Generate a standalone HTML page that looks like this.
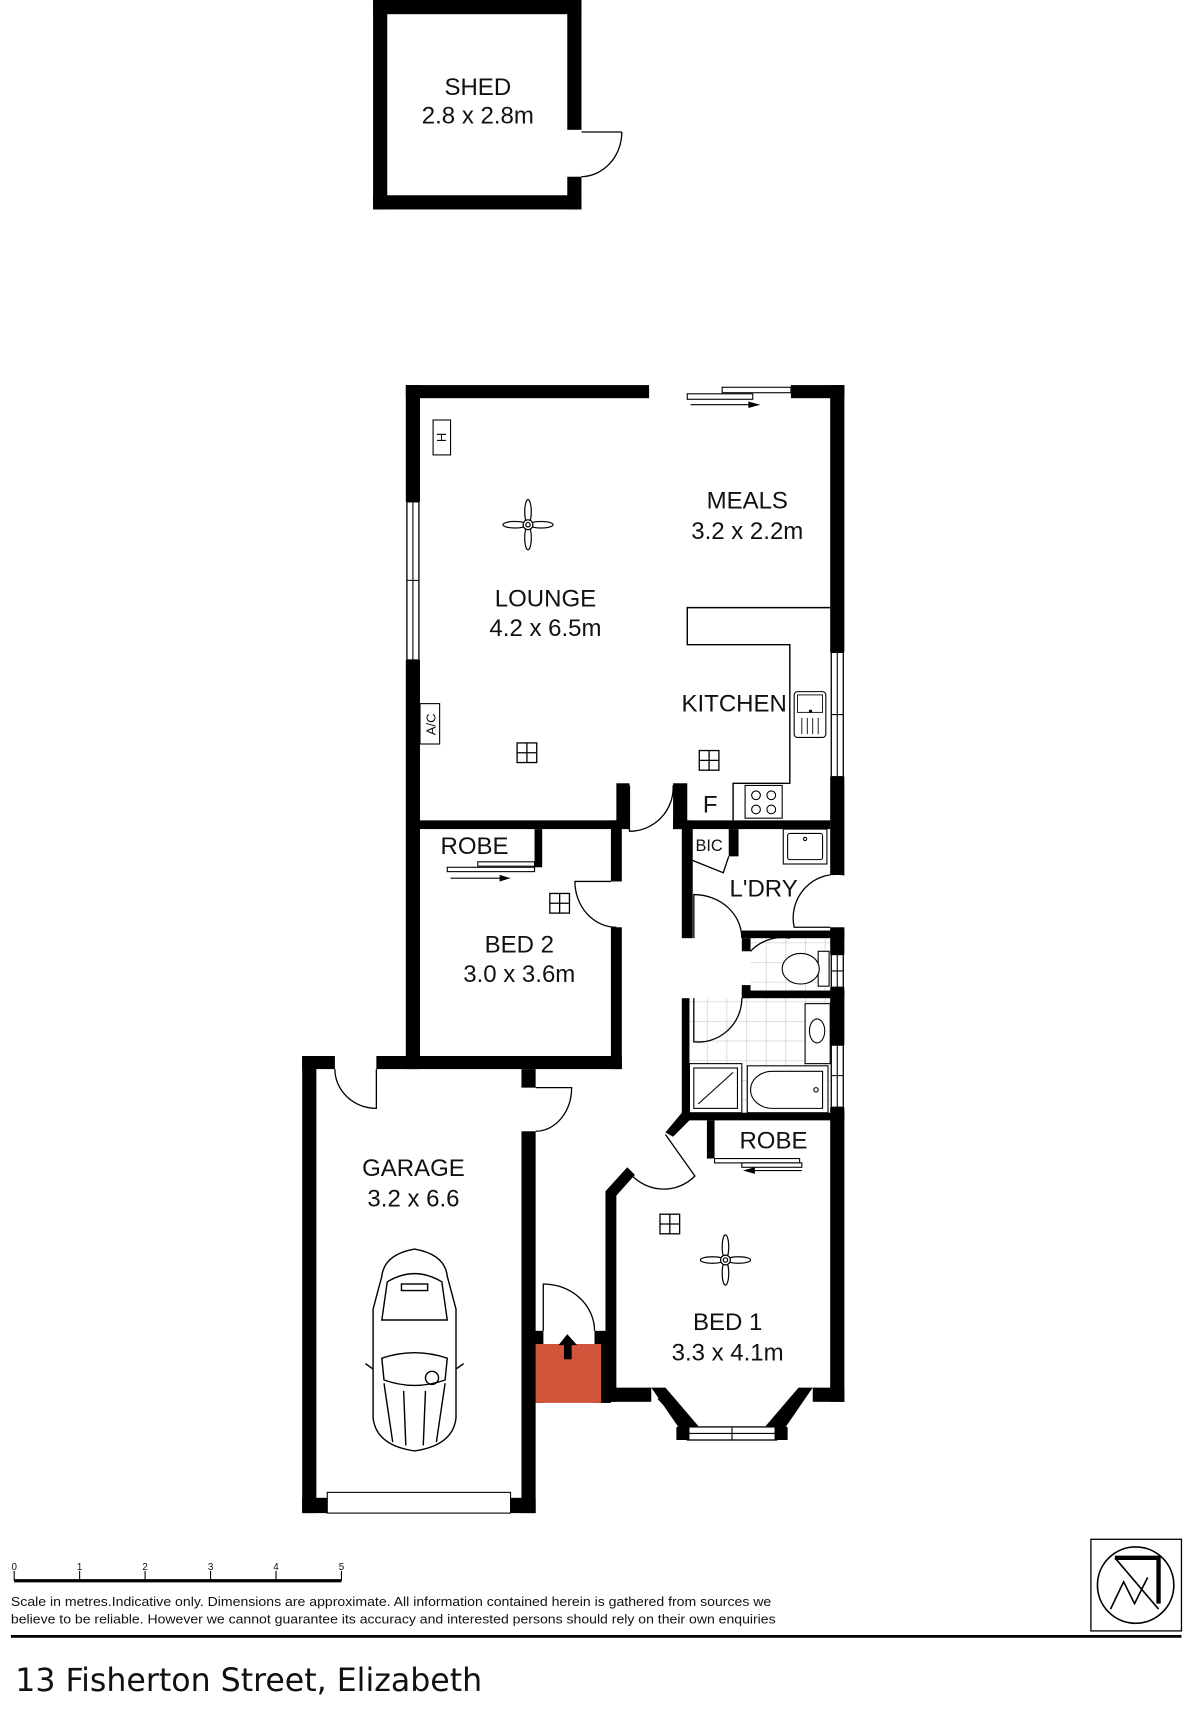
<!DOCTYPE html>
<html><head><meta charset="utf-8"><style>
html,body{margin:0;padding:0;background:#fff}
svg{display:block}
text{font-family:"Liberation Sans",Arial,sans-serif;fill:#111}
.l{font-size:22px;text-anchor:middle}
</style></head><body>
<svg width="1200" height="1713" viewBox="0 0 1100 1570.25" xmlns="http://www.w3.org/2000/svg">
<defs>
<pattern id="tile" width="18" height="18" patternUnits="userSpaceOnUse"><rect width="18" height="18" fill="#fff"/><path d="M0 0H18M0 0V18" stroke="#ccc" stroke-width="1.2"/></pattern>
<g id="lt"><rect x="-9" y="-9" width="18" height="18" fill="#fff" stroke="#000" stroke-width="1.2"/><path d="M0 -9V9M-9 0H9" stroke="#000" stroke-width="1.2"/></g>
<g id="fan" fill="#fff" stroke="#000" stroke-width="1.1"><ellipse cx="0" cy="-12" rx="3" ry="11"/><ellipse cx="0" cy="12" rx="3" ry="11"/><ellipse cx="-12" cy="0" rx="11" ry="3"/><ellipse cx="12" cy="0" rx="11" ry="3"/><circle r="4.5"/><circle r="2"/></g>
</defs>

<!-- SHED -->
<g fill="#000">
<rect x="342" y="0" width="13" height="192"/>
<rect x="342" y="179" width="191" height="13"/>
<rect x="520" y="0" width="13" height="119"/>
<rect x="520" y="162" width="13" height="30"/>
<rect x="342" y="0" width="191" height="13"/>
</g>
<path d="M533 121H570 M570 121 A38 41 0 0 1 533 162" fill="none" stroke="#000" stroke-width="1.2"/>
<text class="l" x="438" y="87">SHED</text>
<text class="l" x="438" y="113">2.8 x 2.8m</text>

<!-- tiles -->
<rect x="688" y="860" width="73" height="50" fill="url(#tile)"/>
<rect x="632" y="915" width="129" height="105" fill="url(#tile)"/>

<!-- MAIN WALLS -->
<g fill="#000">
<rect x="372" y="353" width="223" height="12"/>
<rect x="725" y="353" width="49" height="12"/>
<rect x="372" y="353" width="13" height="107"/>
<rect x="372" y="605" width="13" height="375"/>
<rect x="761" y="353" width="13" height="245"/>
<rect x="761" y="712" width="13" height="90"/>
<rect x="761" y="850" width="13" height="25"/>
<rect x="761" y="905" width="13" height="53"/>
<rect x="761" y="1015" width="13" height="270"/>
<!-- lounge/bed2 -->
<rect x="385" y="752" width="180" height="8"/>
<rect x="565" y="718" width="12" height="42"/>
<rect x="617" y="718" width="13" height="42"/>
<rect x="617" y="752" width="144" height="8"/>
<!-- bed2 -->
<rect x="560" y="752" width="10" height="56"/>
<rect x="560" y="850" width="10" height="130"/>
<rect x="490" y="760" width="7" height="35"/>
<!-- garage -->
<rect x="277" y="968" width="13" height="419"/>
<rect x="277" y="968" width="30" height="12"/>
<rect x="345" y="968" width="225" height="12"/>
<rect x="478" y="980" width="13" height="17"/>
<rect x="478" y="1037" width="13" height="350"/>
<rect x="277" y="1373" width="214" height="14"/>
<!-- entry -->
<rect x="485" y="1220" width="13" height="66"/>
<rect x="545" y="1220" width="15" height="66"/>
<!-- bed1 -->
<rect x="555" y="1092" width="10" height="193"/>
<polygon points="555,1092 575,1070 582,1077 565,1096"/>
<rect x="555" y="1272" width="42" height="13"/>
<rect x="745" y="1272" width="29" height="13"/>
<rect x="625" y="1020" width="149" height="7"/>
<rect x="648" y="1027" width="7" height="35"/>
<polygon points="625,1020 632,1027 617,1042 610,1038"/>
<!-- laundry/bath -->
<rect x="625" y="752" width="10" height="108"/>
<rect x="668" y="760" width="9" height="25"/>
<rect x="680" y="853" width="94" height="7"/>
<rect x="680" y="860" width="8" height="12"/>
<rect x="680" y="903" width="8" height="12"/>
<rect x="680" y="908" width="94" height="7"/>
<rect x="625" y="915" width="7" height="110"/>
</g>
<!-- bay -->
<polygon points="597,1272 610,1272 640,1307 630,1320" fill="#000"/>
<polygon points="745,1272 732,1272 702,1307 712,1320" fill="#000"/>
<path d="M603 1282 L633 1314 M737 1282 L707 1314" stroke="#000" stroke-width="1"/>
<rect x="630" y="1308" width="82" height="12" fill="#fff" stroke="#000" stroke-width="1.2"/>
<path d="M630 1314H712 M671 1308V1320" stroke="#000" stroke-width="1"/>
<rect x="620" y="1308" width="12" height="12" fill="#000"/>
<rect x="710" y="1308" width="12" height="12" fill="#000"/>

<!-- windows -->
<g fill="#fff" stroke="#000" stroke-width="1.2">
<rect x="373" y="460" width="11" height="145"/>
<rect x="762" y="598" width="11" height="114"/>
<rect x="762" y="875" width="11" height="30"/>
<rect x="762" y="958" width="11" height="57"/>
</g>
<path d="M378.5 460V605 M767.5 598V712 M767.5 875V905 M767.5 958V1015 M373 532H384 M762 655H773 M762 890H773 M762 986H773" stroke="#000" stroke-width="1"/>

<!-- sliding door top -->
<rect x="630" y="361" width="60" height="5" fill="#fff" stroke="#000"/>
<rect x="662" y="355" width="63" height="5" fill="#fff" stroke="#000"/>
<path d="M633 371H688" stroke="#000"/><polygon points="686,368 697,371 686,374" fill="#000"/>

<!-- doors -->
<g fill="none" stroke="#000" stroke-width="1.2">
<path d="M577 720V762 A40 40 0 0 0 617 720"/>
<path d="M560 808H527 A38 42 0 0 0 565 850"/>
<path d="M345 980V1016 A38 36 0 0 1 307 980"/>
<path d="M491 997H524 A33 40 0 0 1 491 1037"/>
<path d="M498 1220V1177 A47 43 0 0 1 545 1220"/>
<path d="M610 1040L637 1078 A40 40 0 0 1 575 1072"/>
<path d="M633 788L663 800 L668 785"/>
<path d="M636 860V820 A44 40 0 0 1 680 860"/>
<path d="M774 802 A40 40 0 0 0 728 850 H761"/>
<path d="M688 872 L688 872 M680 915 L680 915"/>
<path d="M688 872 A40 40 0 0 1 724 860"/>
<path d="M636 915V955 A40 40 0 0 0 680 915"/>
</g>

<!-- robes -->
<rect x="410" y="795" width="80" height="4" fill="#fff" stroke="#000"/>
<rect x="438" y="790" width="52" height="4" fill="#fff" stroke="#000"/>
<path d="M413 805H460" stroke="#000"/><polygon points="458,802 468,805 458,808" fill="#000"/>
<rect x="655" y="1062" width="78" height="4" fill="#fff" stroke="#000"/>
<rect x="680" y="1066" width="55" height="4" fill="#fff" stroke="#000"/>
<path d="M692 1073H735" stroke="#000"/><polygon points="692,1070 681,1073 692,1076" fill="#000"/>

<!-- kitchen bench -->
<path d="M761 557H630V591H724V718H672V752" fill="none" stroke="#000" stroke-width="1.3"/>
<rect x="728" y="634" width="29" height="42" rx="3" fill="#fff" stroke="#000"/>
<rect x="731" y="637" width="23" height="16" fill="none" stroke="#000" stroke-width=".8"/>
<circle cx="743" cy="652" r="1.5" fill="#000"/>
<path d="M735 658V673M740 658V673M745 658V673M750 658V673" stroke="#000" stroke-width=".8"/>
<rect x="683" y="720" width="34" height="30" fill="#fff" stroke="#000"/>
<g fill="none" stroke="#000"><circle cx="693" cy="729" r="4"/><circle cx="707" cy="729" r="4"/><circle cx="693" cy="742" r="4"/><circle cx="707" cy="742" r="4"/></g>
<!-- laundry sink -->
<rect x="718" y="760" width="40" height="32" fill="#fff" stroke="#000"/>
<rect x="722" y="764" width="32" height="24" rx="2" fill="none" stroke="#000"/>
<circle cx="738" cy="769" r="1.5" fill="none" stroke="#000"/>
<!-- toilet -->
<rect x="750" y="872" width="10" height="32" fill="#fff" stroke="#000"/>
<ellipse cx="734" cy="888" rx="17" ry="14" fill="#fff" stroke="#000"/>
<!-- basin -->
<rect x="738" y="920" width="23" height="55" fill="#fff" stroke="#000"/>
<ellipse cx="749" cy="945" rx="7" ry="11" fill="none" stroke="#000"/>
<!-- shower -->
<rect x="632" y="975" width="48" height="45" fill="#fff" stroke="#000"/>
<rect x="636" y="979" width="40" height="37" fill="none" stroke="#000"/>
<path d="M640 1012L672 983" stroke="#000"/>
<!-- bath -->
<rect x="685" y="977" width="74" height="43" fill="#fff" stroke="#000"/>
<path d="M708 982H754V1016H708A20 17 0 0 1 708 982Z" fill="none" stroke="#000"/>
<circle cx="748" cy="999" r="2" fill="none" stroke="#000"/>

<!-- H and AC -->
<rect x="397" y="385" width="16" height="32" fill="#fff" stroke="#000"/>
<text x="0" y="0" font-size="12" text-anchor="middle" transform="translate(409,401) rotate(-90)">H</text>
<rect x="385" y="645" width="18" height="37" fill="#fff" stroke="#000"/>
<text x="0" y="0" font-size="12" text-anchor="middle" transform="translate(399,664) rotate(-90)">A/C</text>

<use href="#fan" x="484" y="481"/>
<use href="#fan" x="665" y="1155"/>
<use href="#lt" x="483" y="690"/>
<use href="#lt" x="650" y="697"/>
<use href="#lt" x="513" y="828"/>
<use href="#lt" x="614" y="1122"/>

<!-- porch -->
<rect x="491" y="1232" width="60" height="54" fill="#d2543a"/>
<rect x="485" y="1220" width="13" height="12" fill="#000"/>
<rect x="545" y="1220" width="15" height="12" fill="#000"/>
<rect x="517" y="1232" width="7" height="14" fill="#000"/>
<polygon points="512,1233 520,1223 529,1233" fill="#000"/>

<!-- garage door -->
<rect x="300" y="1368" width="168" height="19" fill="#fff" stroke="#000"/>

<!-- car -->
<g fill="none" stroke="#000" stroke-width="1.3">
<path d="M350 1170 Q352 1150 380 1145 Q408 1150 410 1170 L418 1200 L418 1300 Q415 1325 380 1330 Q345 1325 342 1300 L342 1200 Z"/>
<path d="M355 1175 Q380 1160 405 1175 L410 1210 L350 1210 Z"/>
<rect x="368" y="1177" width="24" height="6"/>
<path d="M350 1245 Q380 1235 410 1245 L408 1265 Q380 1275 352 1265 Z"/>
<path d="M342 1255 L335 1250 M418 1255 L425 1250"/>
<path d="M352 1268 L360 1322 M408 1268 L400 1322 M370 1275 L372 1325 M390 1275 L388 1325"/>
<circle cx="396" cy="1263" r="6"/>
</g>

<!-- labels -->
<text class="l" x="500" y="556">LOUNGE</text>
<text class="l" x="500" y="583">4.2 x 6.5m</text>
<text class="l" x="685" y="466">MEALS</text>
<text class="l" x="685" y="494">3.2 x 2.2m</text>
<text class="l" x="673" y="652">KITCHEN</text>
<text class="l" x="651" y="745">F</text>
<text class="l" x="435" y="783">ROBE</text>
<text x="650" y="780" font-size="15" text-anchor="middle">BIC</text>
<text class="l" x="700" y="822">L'DRY</text>
<text class="l" x="476" y="873">BED 2</text>
<text class="l" x="476" y="900">3.0 x 3.6m</text>
<text class="l" x="709" y="1053">ROBE</text>
<text class="l" x="379" y="1078">GARAGE</text>
<text class="l" x="379" y="1106">3.2 x 6.6</text>
<text class="l" x="667" y="1219">BED 1</text>
<text class="l" x="667" y="1247">3.3 x 4.1m</text>

<!-- footer -->
<path d="M13 1449H313" stroke="#000" stroke-width="3"/>
<path d="M13 1440V1449M73 1440V1449M133 1440V1449M193 1440V1449M253 1440V1449M313 1440V1449" stroke="#000" stroke-width="1"/>
<g font-size="9" text-anchor="middle"><text x="13" y="1439">0</text><text x="73" y="1439">1</text><text x="133" y="1439">2</text><text x="193" y="1439">3</text><text x="253" y="1439">4</text><text x="313" y="1439">5</text></g>
<text x="10" y="1472" font-size="12" textLength="697" lengthAdjust="spacingAndGlyphs">Scale in metres.Indicative only. Dimensions are approximate. All information contained herein is gathered from sources we</text>
<text x="10" y="1488" font-size="12" textLength="701" lengthAdjust="spacingAndGlyphs">believe to be reliable. However we cannot guarantee its accuracy and interested persons should rely on their own enquiries</text>
<path d="M10 1500H1083" stroke="#000" stroke-width="2.5"/>
<rect x="1000" y="1411" width="83" height="84" fill="#fff" stroke="#000" stroke-width="1.2"/>
<circle cx="1041" cy="1453" r="35" fill="none" stroke="#000" stroke-width="1.5"/>
<path d="M1022 1428H1062V1470" fill="none" stroke="#000" stroke-width="4"/>
<path d="M1022 1428L1062 1475 M1018 1475L1030 1450L1040 1470L1052 1446" fill="none" stroke="#000" stroke-width="1.5"/>
<text x="14" y="1550" font-family="'DejaVu Sans Condensed','DejaVu Sans',sans-serif" font-size="29" style="font-family:'DejaVu Sans Condensed','DejaVu Sans',sans-serif" textLength="428" lengthAdjust="spacingAndGlyphs">13 Fisherton Street, Elizabeth</text>
</svg>
</body></html>
